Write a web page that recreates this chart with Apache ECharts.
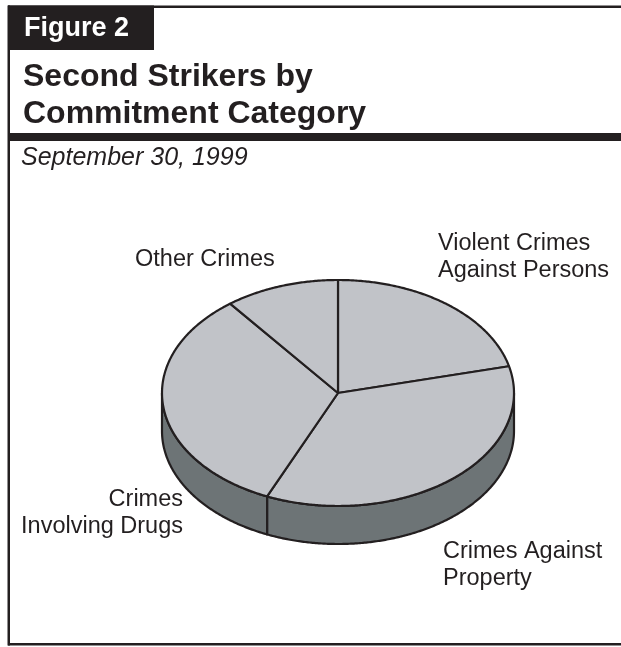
<!DOCTYPE html>
<html>
<head>
<meta charset="utf-8">
<script src="https://cdn.jsdelivr.net/npm/echarts@6/dist/echarts.min.js"></script>
<style>
html,body{margin:0;padding:0;background:#fff;}
#chart{width:621px;height:647px;}
</style>
</head>
<body>
<div id="chart"></div>
<script>
// ---- data ----
const figureLabel = 'Figure 2';
const titleLines = ['Second Strikers by', 'Commitment Category'];
const subtitle = 'September 30, 1999';
const categories = ['Violent Crimes Against Persons', 'Crimes Against Property', 'Crimes Involving Drugs', 'Other Crimes'];
const labelText = ['Violent Crimes\nAgainst Persons', 'Crimes Against\nProperty', 'Crimes\nInvolving Drugs', 'Other Crimes'];
const shares = [21.2, 35.4, 32.9, 10.5];

// ---- layout / style ----
const FONT = "'Liberation Sans', Arial, Helvetica, sans-serif";
const INK = '#231f20';
const TOP_COLOR = '#c1c3c8';
const SIDE_COLOR = '#6d7476';
const pie = { cx: 338, cy: 393, rx: 176, ry: 113, depth: 38 };
const labelPos = [
  { x: 438, y: 230.5, align: 'left' },
  { x: 443, y: 538.5, align: 'left' },
  { x: 183, y: 486.5, align: 'right' },
  { x: 135, y: 246.5, align: 'left' }
];

const total = shares.reduce((a, b) => a + b, 0);
const cum = [0];
shares.forEach((v, i) => cum.push(cum[i] + v));

function ell(a, dy) {
  return [pie.cx + pie.rx * Math.cos(a), pie.cy - pie.ry * Math.sin(a) + (dy || 0)];
}

function renderItem(params, api) {
  const i = params.dataIndex;
  const v = api.value(0);
  const a0 = Math.PI / 2 - 2 * Math.PI * cum[i] / total;
  const a1 = a0 - 2 * Math.PI * v / total;
  const children = [];
  // top face
  const pts = [[pie.cx, pie.cy]];
  const n = Math.max(2, Math.ceil((a0 - a1) / (Math.PI / 360)));
  for (let k = 0; k <= n; k++) pts.push(ell(a0 + (a1 - a0) * k / n));
  children.push({
    type: 'polygon', shape: { points: pts }, z2: 10,
    style: { fill: TOP_COLOR, stroke: INK, lineWidth: 2.2, lineJoin: 'round' }
  });
  // visible side (front half)
  const hi = Math.min(a0, 0), lo = Math.max(a1, -Math.PI);
  if (lo < hi) {
    const sp = [];
    const m = Math.max(2, Math.ceil((hi - lo) / (Math.PI / 360)));
    for (let k = 0; k <= m; k++) sp.push(ell(hi + (lo - hi) * k / m));
    for (let k = m; k >= 0; k--) sp.push(ell(hi + (lo - hi) * k / m, pie.depth));
    children.push({
      type: 'polygon', shape: { points: sp }, z2: 1,
      style: { fill: SIDE_COLOR, stroke: INK, lineWidth: 2.2, lineJoin: 'round' }
    });
  }
  // label
  const lp = labelPos[i];
  children.push({
    type: 'text', z2: 20,
    style: {
      text: labelText[i], x: lp.x, y: lp.y, align: lp.align, verticalAlign: 'top',
      fill: INK, fontSize: 23.5, fontFamily: FONT, lineHeight: 27
    }
  });
  return { type: 'group', children: children };
}

const chart = echarts.init(document.getElementById('chart'), null, { renderer: 'canvas' });
chart.setOption({
  animation: false,
  backgroundColor: '#ffffff',
  graphic: [
    // frame
    { type: 'rect', shape: { x: 8, y: 5.5, width: 613, height: 2.5 }, style: { fill: INK } },
    { type: 'rect', shape: { x: 7.5, y: 5.5, width: 2.5, height: 640 }, style: { fill: INK } },
    { type: 'rect', shape: { x: 8, y: 643, width: 613, height: 2.5 }, style: { fill: INK } },
    { type: 'rect', shape: { x: 8, y: 133, width: 613, height: 8 }, style: { fill: INK } },
    { type: 'rect', shape: { x: 8, y: 5.5, width: 146, height: 44.5 }, style: { fill: INK } },
    // texts
    { type: 'text', style: { text: figureLabel, x: 24, y: 28.6, verticalAlign: 'middle', fill: '#ffffff', fontSize: 27, fontWeight: 'bold', fontFamily: FONT } },
    { type: 'text', style: { text: titleLines[0], x: 23, y: 77, verticalAlign: 'middle', fill: INK, fontSize: 32, fontWeight: 'bold', fontFamily: FONT } },
    { type: 'text', style: { text: titleLines[1], x: 23, y: 114, verticalAlign: 'middle', fill: INK, fontSize: 32, fontWeight: 'bold', fontFamily: FONT } },
    { type: 'text', style: { text: subtitle, x: 21, y: 158.3, verticalAlign: 'middle', fill: INK, fontSize: 25, fontStyle: 'italic', fontFamily: FONT } }
  ],
  series: [{
    type: 'custom',
    coordinateSystem: 'none',
    silent: true,
    renderItem: renderItem,
    data: shares.map((v, i) => ({ name: categories[i], value: v }))
  }]
});
</script>
</body>
</html>
